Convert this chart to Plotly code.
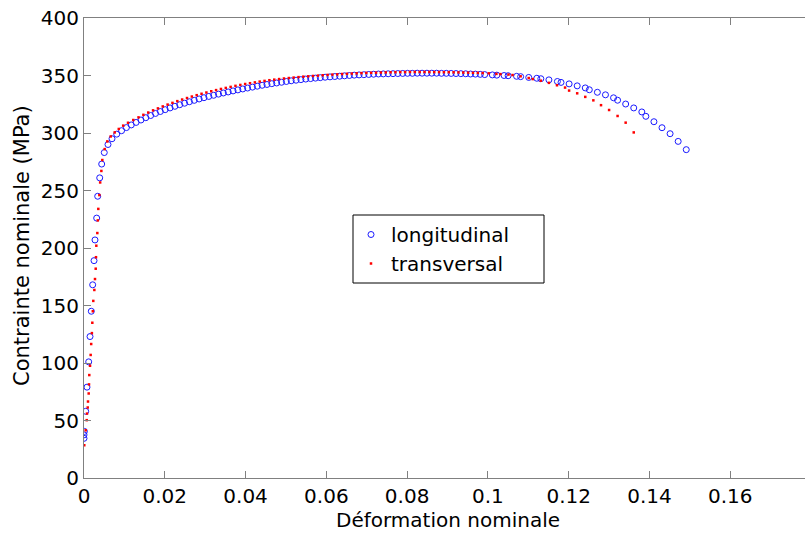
import plotly.graph_objects as go

# Longitudinal (blue open circles): strain, stress (MPa)
long_strain = [0.0, 0.0, 0.0001, 0.00042, 0.00074, 0.00116, 0.00149, 0.00181, 0.00215, 0.00248,
               0.00272, 0.00314, 0.00339, 0.00389, 0.00438, 0.00502, 0.00594, 0.00693, 0.0081,
               0.0093, 0.0105, 0.0117, 0.0129, 0.0141, 0.0153, 0.0165, 0.0177, 0.0189, 0.0201,
               0.0213, 0.0225, 0.0237, 0.0249, 0.0261, 0.0273, 0.0285, 0.0297, 0.0309, 0.0321,
               0.0333, 0.0345, 0.0357, 0.0369, 0.0381, 0.0393, 0.0405, 0.0417, 0.0429, 0.0441,
               0.0453, 0.0465, 0.0477, 0.0489, 0.0501, 0.0513, 0.0525, 0.0537, 0.0549, 0.0561,
               0.0573, 0.0585, 0.0597, 0.0609, 0.0621, 0.0633, 0.0645, 0.0657, 0.0669, 0.0681,
               0.0693, 0.0705, 0.0717, 0.0729, 0.0741, 0.0753, 0.0765, 0.0777, 0.0789, 0.0801,
               0.0813, 0.0825, 0.0837, 0.0849, 0.0861, 0.0873, 0.0885, 0.0897, 0.0909, 0.0921,
               0.0933, 0.0945, 0.0957, 0.0969, 0.0981, 0.0992, 0.1011, 0.1022, 0.1040, 0.1050,
               0.1071, 0.1081, 0.1101, 0.1121, 0.1131, 0.1151, 0.1172, 0.1181, 0.1201, 0.1221,
               0.1241, 0.1251, 0.1271, 0.1291, 0.1311, 0.1321, 0.1341, 0.1361, 0.1381, 0.1391,
               0.1411, 0.1431, 0.1451, 0.1471, 0.1491]
long_stress = [34.5, 37.5, 40.5, 58, 79, 101, 123, 145, 168, 189,
               207, 226, 245, 261, 273, 283, 290, 295, 299,
               302, 304.7, 307, 309.2, 311.3, 313.3, 315.2, 317, 318.7, 320.3,
               321.8, 323.2, 324.6, 325.9, 327.2, 328.4, 329.6, 330.7, 331.8, 332.8,
               333.8, 334.8, 335.7, 336.6, 337.5, 338.3, 339.1, 339.9, 340.7, 341.5,
               342.2, 342.9, 343.5, 344.1, 344.8, 345.4, 345.9, 346.4, 346.9, 347.3,
               347.7, 348.1, 348.5, 348.8, 349.1, 349.4, 349.7, 350.0, 350.3, 350.5,
               350.7, 350.9, 351.1, 351.3, 351.4, 351.5, 351.6, 351.7, 351.8, 351.9,
               351.9, 352.0, 352.0, 352.0, 352.0, 352.0, 351.9, 351.9, 351.8, 351.7,
               351.6, 351.5, 351.3, 351.2, 351.0, 350.8, 350.5, 350.3, 350.0, 349.8,
               349.3, 349.0, 348.3, 347.6, 347.2, 346.2, 344.8, 344.0, 342.7, 341.0,
               339.2, 337.6, 335.4, 333.2, 330.6, 328.5, 325.2, 321.8, 318.3, 314.5,
               309.8, 304.6, 299.4, 292.7, 285.5]

# Transversal (red dots): strain, stress (MPa)
trans_strain = [0.00007, 0.00042, 0.00067, 0.00074, 0.00092, 0.00099, 0.00116, 0.00124, 0.00131, 0.00149,
                0.00165, 0.00178, 0.00195, 0.00206, 0.00218, 0.0023, 0.00256, 0.00272, 0.0029, 0.00297,
                0.00305, 0.0033, 0.00342, 0.00354, 0.0038, 0.0040, 0.0043, 0.00453, 0.00512, 0.00577,
                0.00661, 0.0076, 0.00861, 0.0097, 0.0109, 0.0122, 0.0135, 0.0147, 0.0159, 0.0171,
                0.0183, 0.0195, 0.0207, 0.0219, 0.0231, 0.0243, 0.0255, 0.0267, 0.0279, 0.0291,
                0.0303, 0.0315, 0.0327, 0.0339, 0.0351, 0.0363, 0.0375, 0.0387, 0.0399, 0.0411,
                0.0423, 0.0435, 0.0447, 0.0459, 0.0471, 0.0483, 0.0495, 0.0507, 0.0519, 0.0531,
                0.0543, 0.0555, 0.0567, 0.0579, 0.0591, 0.0603, 0.0615, 0.0627, 0.0639, 0.0651,
                0.0663, 0.0675, 0.0687, 0.0699, 0.0711, 0.0723, 0.0735, 0.0747, 0.0759, 0.0771,
                0.0783, 0.0795, 0.0807, 0.0819, 0.0831, 0.0843, 0.0855, 0.0867, 0.0879, 0.0891,
                0.0903, 0.0915, 0.0927, 0.0939, 0.0951, 0.0963, 0.0975, 0.0987, 0.1002, 0.1021,
                0.1031, 0.1051, 0.1061, 0.1081, 0.1101, 0.1111, 0.1131, 0.1151, 0.1171, 0.1191,
                0.1201, 0.1221, 0.1241, 0.1261, 0.1280, 0.1300, 0.1321, 0.1341, 0.1361]
trans_stress = [28.5, 41.5, 50.3, 56, 61.3, 66.5, 73.5, 81.4, 89.5, 97.6,
                107, 116.5, 126, 135, 145, 154, 163.5, 173, 182, 192,
                202, 213, 224, 234, 246, 257, 267, 276.5, 286, 292.7,
                297, 300.5, 303.5, 306.4, 308.9, 311.3, 313.6, 315.8, 317.8, 319.7,
                321.4, 323.1, 324.7, 326.2, 327.7, 329.1, 330.4, 331.7, 332.9, 334.1,
                335.2, 336.3, 337.3, 338.3, 339.2, 340.1, 341.0, 341.8, 342.6, 343.3,
                344.0, 344.7, 345.3, 345.9, 346.4, 346.9, 347.4, 347.8, 348.2, 348.6,
                349.0, 349.3, 349.6, 349.9, 350.2, 350.5, 350.8, 351.0, 351.3, 351.5,
                351.7, 351.9, 352.1, 352.3, 352.4, 352.5, 352.6, 352.7, 352.8, 352.9,
                353.0, 353.0, 353.1, 353.1, 353.1, 353.1, 353.1, 353.0, 353.0, 352.9,
                352.9, 352.8, 352.7, 352.6, 352.5, 352.4, 352.3, 352.2, 351.9, 351.4,
                351.2, 350.8, 350.4, 349.3, 347.8, 346.9, 345.5, 343.6, 341.5, 339.5,
                336.9, 334.5, 331.4, 328.4, 324.2, 320.0, 314.8, 309.0, 300.5]

x_ticks = [0, 0.02, 0.04, 0.06, 0.08, 0.1, 0.12, 0.14, 0.16]
x_tick_labels = ["0", "0.02", "0.04", "0.06", "0.08", "0.1", "0.12", "0.14", "0.16"]
y_ticks = [0, 50, 100, 150, 200, 250, 300, 350, 400]
y_tick_labels = ["0", "50", "100", "150", "200", "250", "300", "350", "400"]

FONT = "DejaVu Sans"
W, H = 805, 535
L, T, B = 84, 18, 57
PW, PH = W - L, H - T - B


def px_x(p):
    return (p - L) / PW


def px_y(p):
    return (H - B - p) / PH


fig = go.Figure()
fig.add_trace(go.Scatter(
    x=long_strain, y=long_stress, mode="markers", name="longitudinal",
    marker=dict(symbol="circle-open", size=6, color="#1a1aff", line=dict(width=1, color="#1a1aff")),
))
fig.add_trace(go.Scatter(
    x=trans_strain, y=trans_stress, mode="markers", name="transversal",
    marker=dict(symbol="square", size=2.5, color="#ff0000", line=dict(width=0)),
))

axis_common = dict(
    showgrid=False, zeroline=False, showline=True, linecolor="#808080", linewidth=1,
    ticks="inside", ticklen=7, tickcolor="#808080", tickwidth=1, automargin=False,
    tickfont=dict(family=FONT, size=20, color="black"),
)

fig.update_layout(
    width=W, height=H,
    margin=dict(l=L, r=0, t=T, b=B, pad=0),
    paper_bgcolor="white", plot_bgcolor="white",
    showlegend=True,
    legend=dict(
        x=px_x(351), y=px_y(215), xanchor="left", yanchor="top",
        borderwidth=0, bgcolor="rgba(0,0,0,0)",
        font=dict(family=FONT, size=20, color="black"),
    ),
    xaxis=dict(
        range=[0, 0.1785], tickvals=x_ticks, ticktext=x_tick_labels, mirror="ticks",
        **axis_common,
    ),
    yaxis=dict(
        range=[0, 400], tickvals=y_ticks, ticktext=y_tick_labels, mirror=False,
        **axis_common,
    ),
    shapes=[
        dict(type="rect", xref="paper", yref="paper",
             x0=px_x(353), x1=px_x(544), y0=px_y(283), y1=px_y(215),
             line=dict(color="black", width=1), fillcolor="white", layer="below"),
    ],
    annotations=[
        dict(text="Déformation nominale", xref="paper", yref="paper",
             x=px_x(448), y=px_y(520), xanchor="center", yanchor="middle",
             showarrow=False, font=dict(family=FONT, size=20, color="black")),
        dict(text="Contrainte nominale (MPa)", xref="paper", yref="paper",
             x=px_x(22), y=px_y(246), xanchor="center", yanchor="middle",
             textangle=-90, showarrow=False, font=dict(family=FONT, size=21, color="black")),
    ],
)

fig.write_html(
    "out.html",
    config={"displayModeBar": False},
    post_script="document.body.style.margin='0';document.body.style.overflow='hidden';",
)
